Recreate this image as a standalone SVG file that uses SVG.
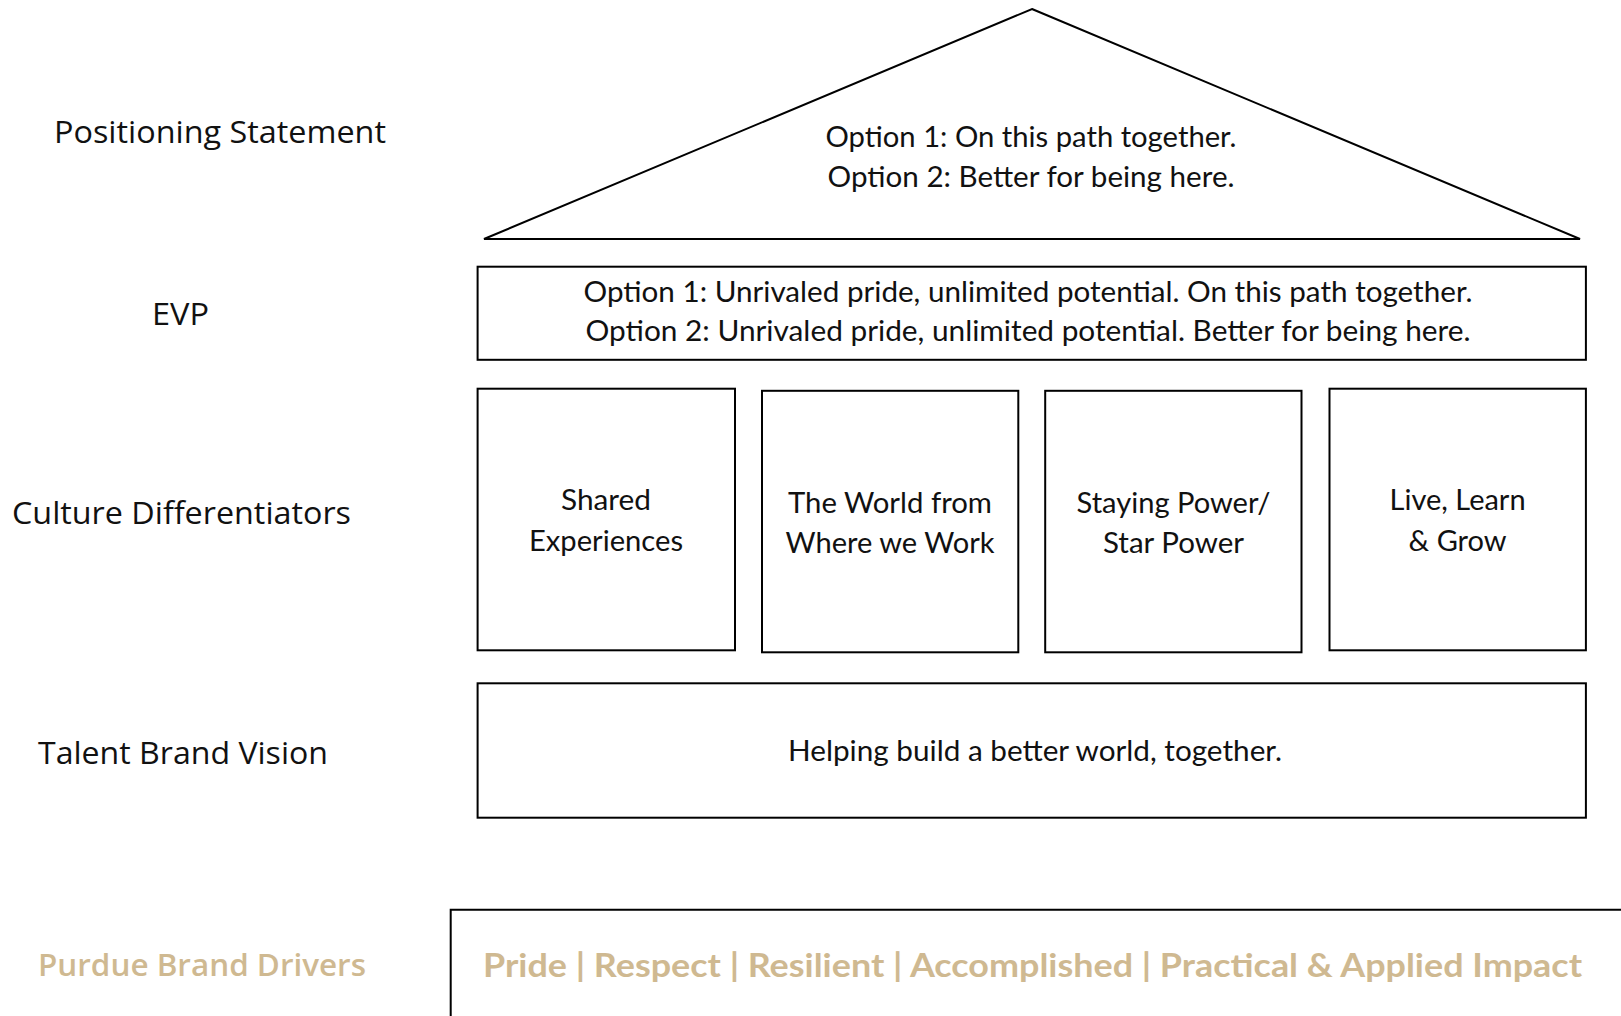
<svg xmlns="http://www.w3.org/2000/svg" width="1621" height="1016" viewBox="0 0 1621 1016">
  <style>
    .shape { fill: #ffffff; stroke: #000000; stroke-width: 2; }
    .label { font-family: "Open Sans", "Noto Sans", sans-serif; font-size: 31px; fill: #111111; }
    .body { font-family: Lato, "Liberation Sans", sans-serif; font-size: 28px; fill: #111111; text-anchor: middle; }
    .gold-label { font-family: "Open Sans", "Noto Sans", sans-serif; font-size: 31px; font-weight: 600; fill: #CFB991; }
    .gold-body { font-family: Lato, "Liberation Sans", sans-serif; font-size: 33px; font-weight: 700; fill: #CFB991; }
  </style>
  <rect width="1621" height="1016" fill="#ffffff"/>

  <!-- row labels on the left -->
  <g id="row-labels">
    <text class="label" x="54" y="143" textLength="332" lengthAdjust="spacingAndGlyphs">Positioning Statement</text>
    <text class="label" x="152" y="325" textLength="57" lengthAdjust="spacingAndGlyphs">EVP</text>
    <text class="label" x="12" y="524" textLength="339" lengthAdjust="spacingAndGlyphs">Culture Differentiators</text>
    <text class="label" x="38" y="764" textLength="290" lengthAdjust="spacingAndGlyphs">Talent Brand Vision</text>
    <text class="gold-label" x="38" y="976" textLength="328" lengthAdjust="spacingAndGlyphs">Purdue Brand Drivers</text>
  </g>

  <!-- roof: positioning statement -->
  <g id="roof">
    <polygon class="shape" points="1032,9 1580,239 484,239"/>
    <text class="body" x="1031" y="147" textLength="411" lengthAdjust="spacingAndGlyphs">Option 1: On this path together.</text>
    <text class="body" x="1031" y="187" textLength="407" lengthAdjust="spacingAndGlyphs">Option 2: Better for being here.</text>
  </g>

  <!-- EVP beam -->
  <g id="evp">
    <rect class="shape" x="477.6" y="266.7" width="1108.3" height="93.1"/>
    <text class="body" x="1028" y="302" textLength="889" lengthAdjust="spacingAndGlyphs">Option 1: Unrivaled pride, unlimited potential. On this path together.</text>
    <text class="body" x="1028" y="341" textLength="885" lengthAdjust="spacingAndGlyphs">Option 2: Unrivaled pride, unlimited potential. Better for being here.</text>
  </g>

  <!-- culture differentiator pillars -->
  <g id="pillar-shared">
    <rect class="shape" x="477.6" y="388.7" width="257.4" height="261.6"/>
    <text class="body" x="606" y="510" textLength="90" lengthAdjust="spacingAndGlyphs">Shared</text>
    <text class="body" x="606" y="551" textLength="154" lengthAdjust="spacingAndGlyphs">Experiences</text>
  </g>
  <g id="pillar-world">
    <rect class="shape" x="762" y="390.8" width="256.3" height="261.5"/>
    <text class="body" x="890" y="513" textLength="204" lengthAdjust="spacingAndGlyphs">The World from</text>
    <text class="body" x="890" y="553" textLength="209" lengthAdjust="spacingAndGlyphs">Where we Work</text>
  </g>
  <g id="pillar-staying">
    <rect class="shape" x="1045.2" y="390.8" width="256.3" height="261.5"/>
    <text class="body" x="1173.5" y="513" textLength="194" lengthAdjust="spacingAndGlyphs">Staying Power/</text>
    <text class="body" x="1173.5" y="553" textLength="141" lengthAdjust="spacingAndGlyphs">Star Power</text>
  </g>
  <g id="pillar-grow">
    <rect class="shape" x="1329.5" y="388.7" width="256.4" height="261.6"/>
    <text class="body" x="1457.6" y="510" textLength="136" lengthAdjust="spacingAndGlyphs">Live, Learn</text>
    <text class="body" x="1457.6" y="551" textLength="98" lengthAdjust="spacingAndGlyphs">&amp; Grow</text>
  </g>

  <!-- foundation: talent brand vision -->
  <g id="vision">
    <rect class="shape" x="477.6" y="683.3" width="1108.3" height="134.4"/>
    <text class="body" x="1035" y="761" textLength="494" lengthAdjust="spacingAndGlyphs">Helping build a better world, together.</text>
  </g>

  <!-- brand drivers panel, open to the right and bottom edges -->
  <g id="brand-drivers">
    <path d="M450.7,1020 V909.7 H1625" fill="none" stroke="#000000" stroke-width="2"/>
    <text class="gold-body" x="483" y="977" textLength="1099" lengthAdjust="spacingAndGlyphs">Pride | Respect | Resilient | Accomplished | Practical &amp; Applied Impact</text>
  </g>

  <g id="connectors"/>
</svg>
